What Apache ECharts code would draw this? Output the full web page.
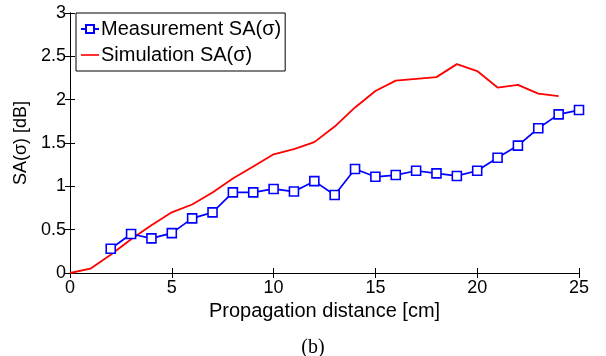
<!DOCTYPE html>
<html>
<head>
<meta charset="utf-8">
<script src="https://cdn.jsdelivr.net/npm/echarts@6/dist/echarts.min.js"></script>
<style>html,body{margin:0;padding:0;background:#fff;}#c{width:606px;height:356px;}</style>
</head>
<body>
<div id="c"></div>
<script>
var measX = [2,3,4,5,6,7,8,9,10,11,12,13,14,15,16,17,18,19,20,21,22,23,24,25];
var measY = [0.28,0.45,0.40,0.46,0.63,0.70,0.93,0.93,0.97,0.94,1.06,0.90,1.20,1.11,1.13,1.18,1.15,1.12,1.18,1.33,1.47,1.67,1.83,1.88];
var simX = [0,1,2,3,4,5,6,7,8,9,10,11,12,13,14,15,16,17,18,19,20,21,22,23,24];
var simY = [0,0.05,0.21,0.39,0.55,0.70,0.79,0.93,1.09,1.23,1.37,1.43,1.51,1.69,1.91,2.10,2.22,2.24,2.26,2.41,2.33,2.14,2.17,2.07,2.04];
var xTicks = [0,5,10,15,20,25];
var yTicks = [0,0.5,1,1.5,2,2.5,3];

function pairs(xs, ys){ return xs.map(function(x,i){ return [x, ys[i]]; }); }

var font = 'Liberation Sans, Arial, sans-serif';
var chart = echarts.init(document.getElementById('c'));
var axisLine = {show:true, lineStyle:{color:'#000', width:1}};
var tickIn = {show:true, inside:true, length:5, lineStyle:{color:'#000', width:1}};
chart.setOption({
  animation:false,
  backgroundColor:'#fff',
  grid:{left:70, right:27, top:13, bottom:83, containLabel:false},
  title:{text:'(b)', left:308, top:333, textAlign:'center',
    textStyle:{fontFamily:'Liberation Serif, Times New Roman, serif', fontWeight:'normal', fontSize:20, color:'#000'}},
  legend:{
    left:76, top:13, orient:'vertical', itemGap:6, itemWidth:18, itemHeight:10,
    padding:[6,4,6,4], borderColor:'#000', borderWidth:1, backgroundColor:'#fff',
    textStyle:{fontFamily:font, fontSize:20, color:'#000', padding:[0,0,0,-3]},
    data:[{name:'Measurement SA(σ)'},
          {name:'Simulation SA(σ)', icon:'path://M0,4.1 L20,4.1 L20,5.9 L0,5.9 Z'}]
  },
  xAxis:[{
    type:'value', min:0, max:25, interval:5, position:'bottom',
    name:'Propagation distance [cm]', nameLocation:'middle', nameGap:24,
    nameTextStyle:{fontFamily:font, fontSize:20, color:'#000'},
    axisLine:axisLine, axisTick:tickIn, splitLine:{show:false},
    axisLabel:{fontFamily:font, fontSize:18, color:'#000', margin:6}
  },{
    type:'value', min:0, max:25, interval:5, position:'top',
    axisLine:axisLine, axisTick:tickIn, splitLine:{show:false}, axisLabel:{show:false}
  }],
  yAxis:[{
    type:'value', min:0, max:3, interval:0.5, position:'left',
    name:'SA(σ) [dB]', nameLocation:'middle', nameGap:34, nameRotate:90,
    nameTextStyle:{fontFamily:font, fontSize:18, color:'#000'},
    axisLine:axisLine, axisTick:tickIn, splitLine:{show:false},
    axisLabel:{fontFamily:font, fontSize:18, color:'#000', margin:4,
      formatter:function(v){ return String(v); }}
  },{
    type:'value', min:0, max:3, interval:0.5, position:'right',
    axisLine:axisLine, axisTick:tickIn, splitLine:{show:false}, axisLabel:{show:false}
  }],
  series:[{
    name:'Measurement SA(σ)', type:'line', data:pairs(measX, measY),
    symbol:'rect', symbolSize:9, showAllSymbol:true,
    lineStyle:{color:'#0000ff', width:1.7},
    itemStyle:{color:'#fff', borderColor:'#0000ff', borderWidth:1.6},
    z:3
  },{
    name:'Simulation SA(σ)', type:'line', data:pairs(simX, simY),
    symbol:'none', lineStyle:{color:'#ff0000', width:1.8},
    itemStyle:{color:'#ff0000'}, z:2
  }]
});
</script>
</body>
</html>
